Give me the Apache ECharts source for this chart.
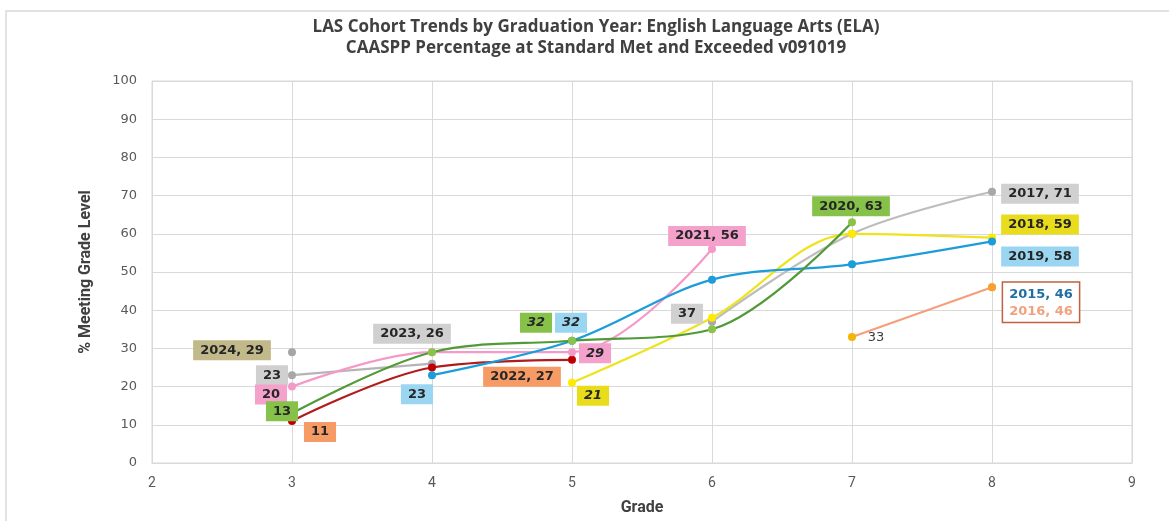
<!DOCTYPE html>
<html>
<head>
<meta charset="utf-8">
<script src="https://cdn.jsdelivr.net/npm/echarts@6/dist/echarts.min.js"></script>
<style>
  html, body { margin: 0; padding: 0; background: #fff; }
  #chart { width: 1169px; height: 521px; }
</style>
</head>
<body>
<div id="chart"></div>
<script>
// grades on the x axis
const grades = [3, 4, 5, 6, 7, 8];

// % meeting grade level, one array per graduating cohort (null = no score)
const c2015 = [null, null, null, null, null, 46];
const c2016 = [null, null, null, null, 33, 46];
const c2017 = [null, null, null, 37, 60, 71];
const c2018 = [null, null, 21, 38, 60, 59];
const c2019 = [null, 23, 32, 48, 52, 58];
const c2020 = [13, 29, 32, 35, 63, null];
const c2021 = [20, 29, 29, 56, null, null];
const c2022 = [11, 25, 27, null, null, null];
const c2023 = [23, 26, null, null, null, null];
const c2024 = [29, null, null, null, null, null];

const yTicks = [0, 10, 20, 30, 40, 50, 60, 70, 80, 90, 100];
const xTicks = [2, 3, 4, 5, 6, 7, 8, 9];

const chart = echarts.init(document.getElementById('chart'));

// label box: bg colour, offset from point, optional italic / full text
function box(bg, off, extra) {
  return Object.assign({
    show: true,
    position: 'inside',
    offset: off,
    backgroundColor: bg,
    color: '#262626',
    fontFamily: 'DejaVu Sans',
    fontWeight: 'bold',
    fontSize: 13,
    padding: [3, 7, 2, 7],
    lineHeight: 15
  }, extra || {});
}

// which points get labels (grade -> label settings)
const labels = {
  '2015': { 8: box('#fff', [49, 15], {
      borderColor: '#C0613F', borderWidth: 1.5, padding: [3, 6, 2, 6],
      formatter: '{a|2015, 46}\n{b|2016, 46}',
      rich: {
        a: { color: '#1F6FA3', fontFamily: 'DejaVu Sans', fontWeight: 'bold', fontSize: 13, lineHeight: 17 },
        b: { color: '#F0A27E', fontFamily: 'DejaVu Sans', fontWeight: 'bold', fontSize: 13, lineHeight: 17 }
      } }) },
  '2016': { 7: box('transparent', [24, 1], { fontWeight: 'normal', color: '#404040', formatter: '33' }) },
  '2017': { 6: box('#D0D0D0', [-25, -8]), 8: box('#D0D0D0', [48, 2], { formatter: '2017, 71' }) },
  '2018': { 5: box('#E8DC1C', [21, 13], { fontStyle: 'italic' }), 8: box('#E8DC1C', [48, -13], { formatter: '2018, 59' }) },
  '2019': { 4: box('#9AD6F2', [-15, 19]), 5: box('#9AD6F2', [-1, -18], { fontStyle: 'italic' }), 8: box('#9AD6F2', [48, 15], { formatter: '2019, 58' }) },
  '2020': { 3: box('#86C14A', [-10, -2]), 5: box('#86C14A', [-36, -18], { fontStyle: 'italic' }), 7: box('#86C14A', [-1, -16], { formatter: '2020, 63' }) },
  '2021': { 3: box('#F4A1CC', [-21, 8]), 5: box('#F4A1CC', [23, 1], { fontStyle: 'italic' }), 6: box('#F4A1CC', [-5, -13], { formatter: '2021, 56' }) },
  '2022': { 3: box('#F79B66', [28, 11]), 5: box('#F79B66', [-50, 17], { formatter: '2022, 27' }) },
  '2023': { 3: box('#D0D0D0', [-20, 0]), 4: box('#D0D0D0', [-20, -30], { formatter: '2023, 26' }) },
  '2024': { 3: box('#C2B98A', [-60, -2], { formatter: '2024, 29' }) }
};

const cohorts = [
  { name: '2016', vals: c2016, line: '#F4A07C', dot: ['#F5B400', '#F8A030'] },
  { name: '2015', vals: c2015, line: '#1F6FA3', dot: ['#F8A030'] },
  { name: '2017', vals: c2017, line: '#BDBDBD', dot: ['#A8A8A8'] },
  { name: '2023', vals: c2023, line: '#B5B5B5', dot: ['#A8A8A8'] },
  { name: '2024', vals: c2024, line: '#A6A6A6', dot: ['#A6A6A6'] },
  { name: '2022', vals: c2022, line: '#B01C1C', dot: ['#C00000'] },
  { name: '2018', vals: c2018, line: '#EEE31E', dot: ['#FFEB00'] },
  { name: '2021', vals: c2021, line: '#F49AC9', dot: ['#F49AC9'] },
  { name: '2019', vals: c2019, line: '#1B9DD9', dot: ['#1B9DD9'] },
  { name: '2020', vals: c2020, line: '#519A38', dot: ['#8BC34A'] }
];

const series = cohorts.map(function (c) {
  const data = [];
  grades.forEach(function (g, i) {
    if (c.vals[i] == null) return;
    const item = { value: [g, c.vals[i]] };
    const lab = labels[c.name][g];
    if (lab) item.label = lab;
    const k = data.length;
    item.itemStyle = { color: c.dot[Math.min(k, c.dot.length - 1)] };
    data.push(item);
  });
  return {
    name: c.name,
    type: 'line',
    smooth: 0.34,
    smoothConstraint: false,
    data: data,
    symbol: 'circle',
    symbolSize: 8,
    lineStyle: { color: c.line, width: 2.2 },
    itemStyle: { color: c.dot[0] },
    label: { show: false },
    emphasis: { disabled: true },
    z: 3
  };
});

const option = {
  animation: false,
  backgroundColor: '#fff',
  graphic: [{
    type: 'rect',
    shape: { x: 6, y: 11, width: 1300, height: 700 },
    style: { fill: 'none', stroke: '#D9D9D9', lineWidth: 1.5 },
    silent: true,
    z: -10
  }],
  title: {
    text: 'LAS Cohort Trends by Graduation Year: English Language Arts (ELA)\nCAASPP Percentage at Standard Met and Exceeded v091019',
    left: 591,
    top: 12,
    textAlign: 'center',
    textStyle: {
      fontFamily: 'Open Sans',
      fontWeight: 'bold',
      fontSize: 17,
      lineHeight: 21,
      color: '#404040'
    }
  },
  grid: {
    left: 152,
    right: 37,
    top: 81,
    bottom: 55,
    show: true,
    borderColor: '#D9D9D9',
    borderWidth: 1
  },
  xAxis: {
    type: 'value',
    min: xTicks[0],
    max: xTicks[xTicks.length - 1],
    interval: 1,
    name: 'Grade',
    nameLocation: 'middle',
    nameGap: 37,
    nameTextStyle: { fontFamily: 'Liberation Sans Narrow, Roboto', fontWeight: 'bold', fontSize: 16, color: '#404040' },
    axisLine: { show: true, lineStyle: { color: '#D9D9D9' } },
    axisTick: { show: false },
    axisLabel: { color: '#595959', fontFamily: 'Liberation Sans Narrow, Roboto', fontSize: 14, margin: 13 },
    splitLine: { show: true, lineStyle: { color: '#D9D9D9' } }
  },
  yAxis: {
    type: 'value',
    min: yTicks[0],
    max: yTicks[yTicks.length - 1],
    interval: 10,
    name: '% Meeting Grade Level',
    nameLocation: 'middle',
    nameGap: 58,
    nameTextStyle: { fontFamily: 'Liberation Sans Narrow, Roboto', fontWeight: 'bold', fontSize: 16, color: '#404040' },
    axisLine: { show: false },
    axisTick: { show: false },
    axisLabel: { color: '#595959', fontFamily: 'DejaVu Sans', fontSize: 13, margin: 15 },
    splitLine: { show: true, lineStyle: { color: '#D9D9D9' } }
  },
  series: series
};

chart.setOption(option);
</script>
</body>
</html>
